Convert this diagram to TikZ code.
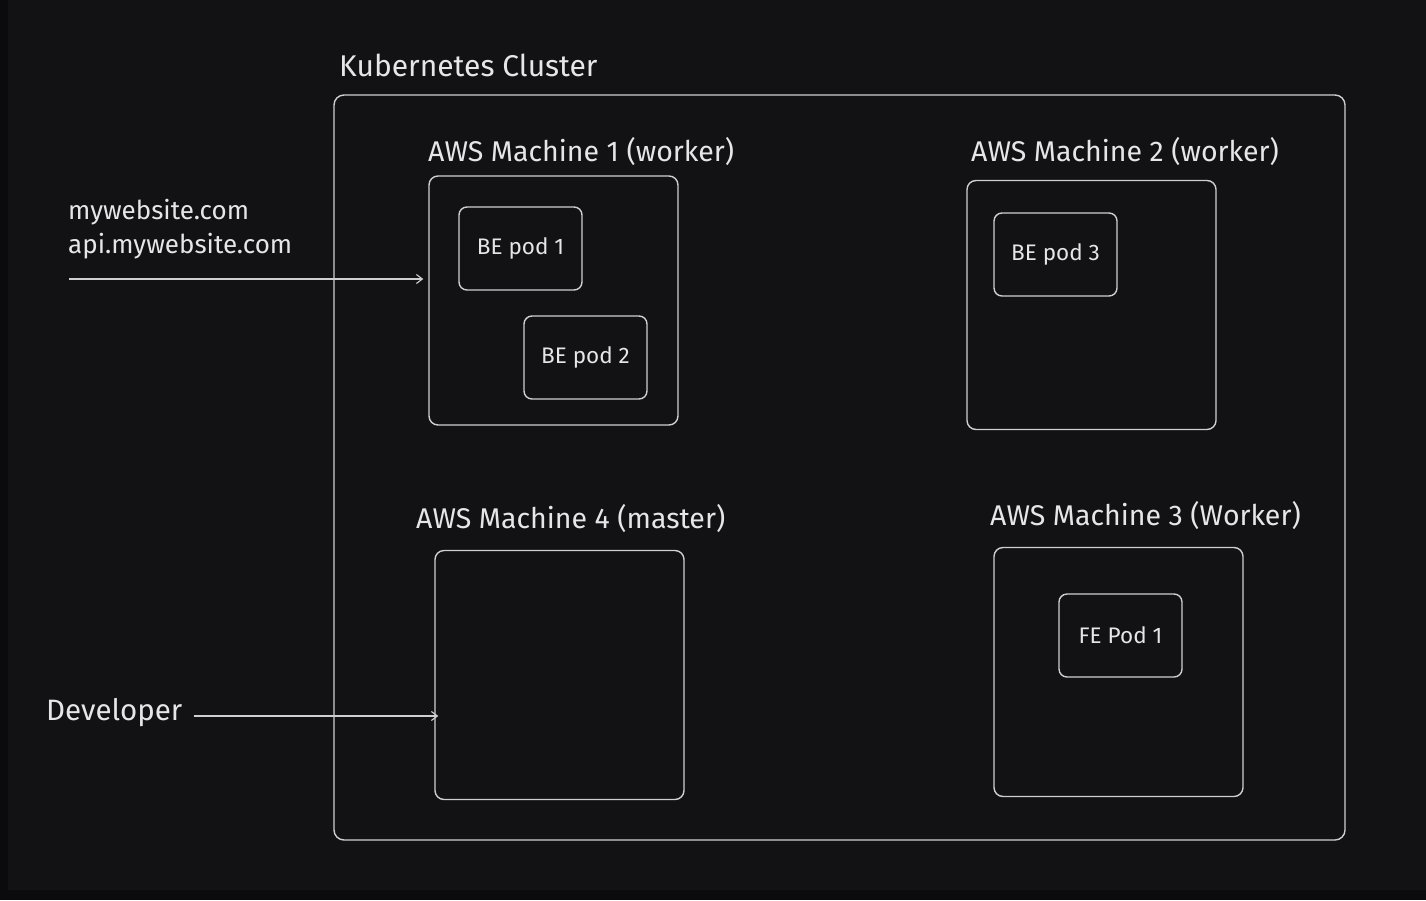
\documentclass[tikz,border=0pt]{standalone}
\usepackage{fontspec}
\setmainfont{Fira Sans}
\usetikzlibrary{positioning,arrows.meta}

\definecolor{bgdark}{HTML}{121214}
\definecolor{bgedge}{HTML}{0B0B0D}
\definecolor{inkline}{HTML}{CFCFCF}
\definecolor{inktext}{HTML}{E6E6E6}

\tikzset{
  box/.style={draw=inkline, line width=1.4pt, rounded corners=9pt, inner sep=0pt},
  machine/.style={box, minimum width=249pt, minimum height=249pt},
  pod/.style={box, rounded corners=8pt, minimum width=123pt, minimum height=83pt,
    text=inktext, font=\fontsize{22.5}{26}\selectfont},
  title/.style={text=inktext, inner sep=0pt, anchor=west, font=\fontsize{28.5}{32}\selectfont},
  hint/.style={text=inktext, inner sep=0pt, anchor=west, align=left,
    font=\fontsize{26}{34}\selectfont},
}

\begin{document}
\begin{tikzpicture}[x=1pt, y=-1pt, >={Straight Barb[length=6pt,width=9pt]}]

% Background
\fill[bgdark] (0,0) rectangle (1426,900);
\fill[bgedge] (0,0) rectangle (8,900);
\fill[bgedge] (0,890) rectangle (1426,900);
\useasboundingbox (0,0) rectangle (1426,900);

% Cluster
\node[box, rounded corners=10pt, minimum width=1011pt, minimum height=745pt] (cluster) at (839.5,467.5) {};
\node[title, font=\fontsize{30}{34}\selectfont] (clusterlbl) at (339,65) {Kubernetes Cluster};

% Machines
\node[machine] (m1) at (553.5,300.5) {};
\node[machine] (m2) at (1091.5,305) {};
\node[machine] (m4) at (559.5,675) {};
\node[machine] (m3) at (1118.5,672) {};

\node[title] (m1lbl) at (428,152) {AWS Machine 1 (worker)};
\node[title] (m2lbl) at (971,152) {AWS Machine 2 (worker)};
\node[title] (m4lbl) at (416,519) {AWS Machine 4 (master)};
\node[title] (m3lbl) at (990,516) {AWS Machine 3 (Worker)};

% Pods
\node[pod] (bepod1) at (520.5,248.5) {BE pod 1};
\node[pod] (bepod2) at (585.5,357.5) {BE pod 2};
\node[pod] (bepod3) at (1055.5,254.5) {BE pod 3};
\node[pod] (fepod1) at (1120.5,635.5) {FE Pod 1};

% Outside users
\node[hint] (web) at (68,229) {mywebsite.com\\api.mywebsite.com};
\coordinate (websrc) at (69,279);
\draw[->, inkline, line width=1.1pt] (websrc) -- ([xshift=-5pt]websrc -| m1.west);

\node[title, font=\fontsize{29.5}{34}\selectfont] (dev) at (46,713) {Developer};
\draw[->, inkline, line width=1.1pt] ([xshift=11pt,yshift=-3pt]dev.east) -- ([xshift=4pt,yshift=-3pt]dev.east -| m4.west);

\end{tikzpicture}
\end{document}
